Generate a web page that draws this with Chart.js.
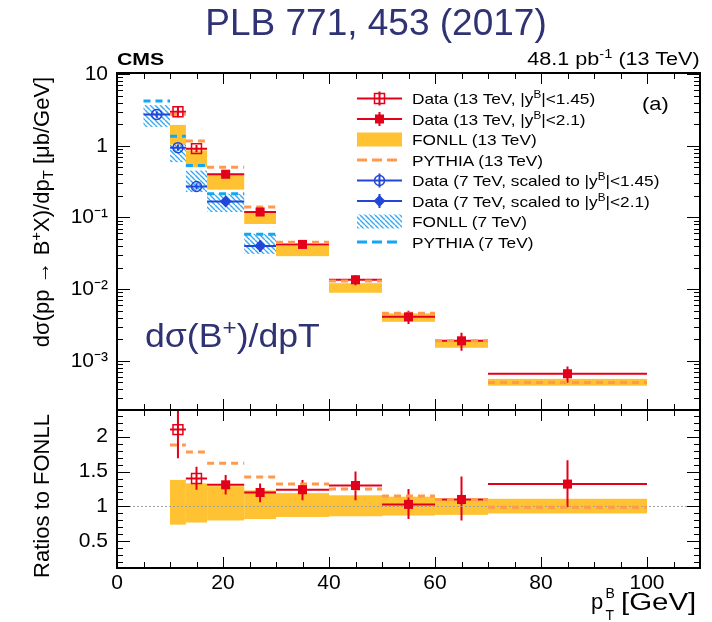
<!DOCTYPE html>
<html>
<head>
<meta charset="utf-8">
<script src="https://cdn.jsdelivr.net/npm/chart.js@4.4.1/dist/chart.umd.min.js"></script>
<style>
  html, body { margin: 0; padding: 0; background: #fff; }
  body { width: 712px; height: 622px; position: relative; overflow: hidden; font-family: "Liberation Sans", Arial, sans-serif; }
  canvas { position: absolute; left: 0; top: 0; }
  .t { position: absolute; white-space: nowrap; line-height: 1; color: #000; transform-origin: 0 0; }
  .rot { position: absolute; white-space: nowrap; line-height: 1; font-size: 22px; transform: translate(-50%, -50%) rotate(-90deg); }
  sup, sub { font-size: 68%; line-height: 0; }
  sup { vertical-align: 0.55em; }
  sub { vertical-align: -0.3em; }
  .navy { color: #2f3273; }
  #legend svg { position: absolute; left: 350px; top: 85px; }
</style>
</head>
<body>
<canvas id="c" width="712" height="622"></canvas>

<div class="t navy" id="title" style="font-size:37px; left:376px; top:4px; transform:translateX(-50%);">PLB 771, 453 (2017)</div>
<div class="t" style="font-size:17px; font-weight:bold; left:117px; top:50.6px; transform:scaleX(1.25);">CMS</div>
<div class="t" style="font-size:18px; right:12px; top:49.8px; transform-origin:100% 0; transform:scaleX(1.2);">48.1 pb<sup>-1</sup> (13 TeV)</div>
<div class="t" style="font-size:19px; left:642px; top:94px; transform:scaleX(1.15);">(a)</div>
<div class="t navy" style="font-size:33px; left:145px; top:318.7px; transform:scaleX(1.08);">dσ(B<sup>+</sup>)/dpT</div>
<!-- x축 제목: p_T^B [GeV] -->
<div class="t" style="font-size:22px; left:591px; top:591.4px;">p</div>
<div class="t" style="font-size:14px; left:605.5px; top:585.6px;">B</div>
<div class="t" style="font-size:14px; left:605.5px; top:608.1px;">T</div>
<div class="t" style="font-size:23px; left:621px; top:590.5px; transform:scaleX(1.28);">[GeV]</div>
<div class="rot" style="left:42px; top:212px;">dσ(pp → B<sup>+</sup>X)/dp<sub>T</sub> [μb/GeV]</div>
<div class="rot" style="left:42px; top:496px;">Ratios to FONLL</div>

<div id="legend"></div>

<script>
// 13 TeV 빈 (GeV)
const binLo13 = [10, 13, 17, 24, 30, 40, 50, 60, 70];
const binHi13 = [13, 17, 24, 30, 40, 50, 60, 70, 100];
// 13 TeV 데이터 (첫 두 빈은 |y|<1.45, 나머지 |y|<2.1)
const open13 = [true, true, false, false, false, false, false, false, false];
const data13 = [2.97, 0.91, 0.40, 0.119, 0.042, 0.0135, 0.0041, 0.0019, 0.00066];
const data13Lo = [2.5, 0.81, 0.357, 0.105, 0.0369, 0.0113, 0.00326, 0.00138, 0.000495];
const data13Hi = [3.5, 1.02, 0.443, 0.132, 0.0467, 0.0156, 0.00498, 0.00247, 0.00083];
const fonll13Lo = [1.04, 0.50, 0.244, 0.081, 0.0288, 0.0089, 0.0035, 0.00152, 0.00045];
const fonll13Hi = [1.95, 0.86, 0.394, 0.122, 0.0403, 0.0121, 0.0046, 0.00192, 0.00056];
const pythia13 = [2.75, 1.16, 0.50, 0.14, 0.045, 0.013, 0.0046, 0.0019, 0.0005];

// 7 TeV 빈과 값
const binLo7 = [5, 10, 13, 17, 24];
const binHi7 = [10, 13, 17, 24, 30];
const open7 = [true, true, true, false, false];
const data7 = [2.73, 0.94, 0.27, 0.167, 0.040];
const data7Lo = [2.45, 0.85, 0.245, 0.152, 0.033];
const data7Hi = [3.0, 1.04, 0.30, 0.183, 0.048];
const fonll7Lo = [1.83, 0.59, 0.226, 0.119, 0.031];
const fonll7Hi = [3.68, 1.33, 0.45, 0.214, 0.059];
const pythia7 = [4.19, 1.36, 0.53, 0.214, 0.058];

// 비율 패널 (FONLL 대비)
const ratio = [2.10, 1.40, 1.31, 1.20, 1.24, 1.30, 1.03, 1.10, 1.32];
const ratioLo = [1.69, 1.24, 1.17, 1.06, 1.09, 1.09, 0.82, 0.80, 0.99];
const ratioHi = [2.55, 1.57, 1.45, 1.33, 1.38, 1.50, 1.25, 1.43, 1.66];
const fonllRatioLo = [0.74, 0.77, 0.80, 0.82, 0.85, 0.86, 0.87, 0.88, 0.90];
const fonllRatioHi = [1.38, 1.33, 1.29, 1.23, 1.19, 1.16, 1.14, 1.11, 1.11];
const pythiaRatio = [1.88, 1.78, 1.62, 1.42, 1.32, 1.25, 1.15, 1.10, 0.99];

// 축 눈금
const xTicks = [0, 20, 40, 60, 80, 100];
const logTicks = [1e-3, 1e-2, 1e-1, 1, 10];
const logTickLabels = ['10⁻³', '10⁻²', '10⁻¹', '1', '10'];
const ratioTicks = [0.5, 1, 1.5, 2];

const RED = '#e3001b';
const BLUE = '#2146d8';
const ORANGE = '#fec232';
const PY13 = '#ff9a4d';
const HATCH = '#36a9ef';
const PY7 = '#12a6f5';

/* 보조 함수 */
// 빈마다 끊어진 수평선 데이터
function binLine(lo, hi, vals) {
    const pts = [];
    vals.forEach((v, i) => {
        pts.push({ x: lo[i], y: v }, { x: hi[i], y: v }, { x: hi[i], y: null });
    });
    return pts;
}
function centers(lo, hi, vals, pick) {
    const pts = [];
    vals.forEach((v, i) => {
        if (pick[i]) pts.push({ x: (lo[i] + hi[i]) / 2, y: v });
    });
    return pts;
}
const not = arr => arr.map(b => !b);

function hatchPattern(ctx) {
    const p = 5;
    const c = document.createElement('canvas');
    c.width = p; c.height = p;
    const g = c.getContext('2d');
    g.strokeStyle = HATCH;
    g.lineWidth = 1.4;
    g.beginPath();
    g.moveTo(0, 0); g.lineTo(p, p);
    g.moveTo(-p, 0); g.lineTo(0, p);
    g.moveTo(p, 0); g.lineTo(2 * p, p);
    g.stroke();
    return ctx.createPattern(c, 'repeat');
}

function fillBins(ctx, xs, ys, lo, hi, vLo, vHi) {
    lo.forEach((l, i) => {
        const x0 = xs.getPixelForValue(l), x1 = xs.getPixelForValue(hi[i]);
        const y0 = ys.getPixelForValue(vHi[i]), y1 = ys.getPixelForValue(vLo[i]);
        ctx.fillRect(x0, y0, x1 - x0, y1 - y0);
    });
}

function errorBars(ctx, xs, ys, lo, hi, vals, eLo, eHi, color) {
    ctx.strokeStyle = color;
    ctx.lineWidth = 2;
    ctx.beginPath();
    vals.forEach((v, i) => {
        const py = ys.getPixelForValue(v);
        const pc = xs.getPixelForValue((lo[i] + hi[i]) / 2);
        ctx.moveTo(xs.getPixelForValue(lo[i]), py);
        ctx.lineTo(xs.getPixelForValue(hi[i]), py);
        ctx.moveTo(pc, ys.getPixelForValue(eLo[i]));
        ctx.lineTo(pc, ys.getPixelForValue(eHi[i]));
    });
    ctx.stroke();
}

function clipPanel(ctx, xs, ys) {
    ctx.beginPath();
    ctx.rect(xs.left, ys.top, xs.right - xs.left, ys.bottom - ys.top);
    ctx.clip();
}

/* 밴드와 오차 막대 */
const bandsPlugin = {
    id: 'bands',
    beforeDatasetsDraw(chart) {
        const { ctx } = chart;
        const { x, y, yr } = chart.scales;
        ctx.save();
        clipPanel(ctx, x, y);
        ctx.fillStyle = hatchPattern(ctx);
        fillBins(ctx, x, y, binLo7, binHi7, fonll7Lo, fonll7Hi);
        ctx.fillStyle = ORANGE;
        fillBins(ctx, x, y, binLo13, binHi13, fonll13Lo, fonll13Hi);
        errorBars(ctx, x, y, binLo7, binHi7, data7, data7Lo, data7Hi, BLUE);
        errorBars(ctx, x, y, binLo13, binHi13, data13, data13Lo, data13Hi, RED);
        ctx.restore();

        ctx.save();
        clipPanel(ctx, x, yr);
        ctx.fillStyle = ORANGE;
        fillBins(ctx, x, yr, binLo13, binHi13, fonllRatioLo, fonllRatioHi);
        errorBars(ctx, x, yr, binLo13, binHi13, ratio, ratioLo, ratioHi, RED);
        ctx.restore();
    }
};

/* 테두리와 안쪽 눈금 (ROOT 스타일) */
const framePlugin = {
    id: 'frame',
    afterDraw(chart) {
        const { ctx } = chart;
        const { x, y, yr } = chart.scales;
        const seg = (x0, y0, x1, y1) => { ctx.moveTo(x0, y0); ctx.lineTo(x1, y1); };
        ctx.save();
        ctx.strokeStyle = '#000';
        ctx.lineWidth = 1;
        ctx.beginPath();
        for (let v = 0; v <= 110; v += 5) {
            const px = Math.round(x.getPixelForValue(v)) + 0.5;
            const len = v % 20 === 0 ? 11 : 6;
            [y, yr].forEach(s => {
                seg(px, s.top, px, s.top + len);
                seg(px, s.bottom, px, s.bottom - len);
            });
        }
        for (let e = -4; e <= 1; e++) {
            for (let k = 1; k <= 9; k++) {
                const v = k * Math.pow(10, e);
                if (v < y.min || v > y.max) continue;
                const py = Math.round(y.getPixelForValue(v)) + 0.5;
                const len = k === 1 ? 13 : 6;
                seg(x.left, py, x.left + len, py);
                seg(x.right, py, x.right - len, py);
            }
        }
        for (let i = 2; i <= 23; i++) {
            const py = Math.round(yr.getPixelForValue(i / 10)) + 0.5;
            const len = i % 5 === 0 ? 13 : 6;
            seg(x.left, py, x.left + len, py);
            seg(x.right, py, x.right - len, py);
        }
        ctx.stroke();
        ctx.lineWidth = 2;
        ctx.strokeRect(x.left, y.top, x.right - x.left, y.bottom - y.top);
        ctx.strokeRect(x.left, yr.top, x.right - x.left, yr.bottom - yr.top);
        ctx.restore();
    }
};

const tickFont = { family: '"Liberation Sans", Arial, sans-serif', size: 21 };

const chart = new Chart(document.getElementById('c').getContext('2d'), {
    type: 'scatter',
    data: {
        datasets: [
            // 마커 (위에 그려짐)
            { label: 'Data (13 TeV, |y|<1.45)', yAxisID: 'y', data: centers(binLo13, binHi13, data13, open13),
              pointStyle: 'rect', pointRadius: 7, backgroundColor: 'rgba(0,0,0,0)', borderColor: RED, borderWidth: 1.5, order: 0 },
            { label: 'Data (13 TeV, |y|<2.1)', yAxisID: 'y', data: centers(binLo13, binHi13, data13, not(open13)),
              pointStyle: 'rect', pointRadius: 6.4, backgroundColor: RED, borderColor: RED, borderWidth: 0, order: 0 },
            { label: 'Data (7 TeV, |y|<1.45)', yAxisID: 'y', data: centers(binLo7, binHi7, data7, open7),
              pointStyle: 'circle', pointRadius: 5, backgroundColor: 'rgba(0,0,0,0)', borderColor: BLUE, borderWidth: 1.5, order: 0 },
            { label: 'Data (7 TeV, |y|<2.1)', yAxisID: 'y', data: centers(binLo7, binHi7, data7, not(open7)),
              pointStyle: 'rectRot', pointRadius: 6, backgroundColor: BLUE, borderColor: BLUE, borderWidth: 0, order: 0 },
            { label: 'ratio open', yAxisID: 'yr', data: centers(binLo13, binHi13, ratio, open13),
              pointStyle: 'rect', pointRadius: 7, backgroundColor: 'rgba(0,0,0,0)', borderColor: RED, borderWidth: 1.5, order: 0 },
            { label: 'ratio filled', yAxisID: 'yr', data: centers(binLo13, binHi13, ratio, not(open13)),
              pointStyle: 'rect', pointRadius: 6.4, backgroundColor: RED, borderColor: RED, borderWidth: 0, order: 0 },
            // PYTHIA 점선
            { label: 'PYTHIA (13 TeV)', yAxisID: 'y', data: binLine(binLo13, binHi13, pythia13), showLine: true, spanGaps: false,
              pointRadius: 0, borderColor: PY13, borderWidth: 3, borderDash: [7, 5], order: 1 },
            { label: 'PYTHIA (7 TeV)', yAxisID: 'y', data: binLine(binLo7, binHi7, pythia7), showLine: true, spanGaps: false,
              pointRadius: 0, borderColor: PY7, borderWidth: 3, borderDash: [7, 5], order: 1 },
            { label: 'PYTHIA ratio', yAxisID: 'yr', data: binLine(binLo13, binHi13, pythiaRatio), showLine: true, spanGaps: false,
              pointRadius: 0, borderColor: PY13, borderWidth: 3, borderDash: [7, 5], order: 1 },
            { label: 'one', yAxisID: 'yr', data: [{ x: 0, y: 1 }, { x: 110, y: 1 }], showLine: true,
              pointRadius: 0, borderColor: '#a0a0a0', borderWidth: 1, borderDash: [2, 2], order: 2 },
        ],
    },
    options: {
        responsive: false,
        animation: false,
        events: [],
        layout: { padding: { top: 73, right: 12, left: 0, bottom: 0 } },
        plugins: { legend: { display: false }, tooltip: { enabled: false } },
        scales: {
            x: {
                type: 'linear', min: 0, max: 110,
                grid: { display: false, drawTicks: false }, border: { display: false },
                afterBuildTicks: s => { s.ticks = xTicks.map(v => ({ value: v })); },
                afterFit: s => { s.height = 54; },
                ticks: { font: tickFont, color: '#000', padding: 3, maxRotation: 0, autoSkip: false },
            },
            yr: {
                type: 'linear', position: 'left', stack: 'panels', stackWeight: 158,
                min: 0.12, max: 2.38,
                grid: { display: false, drawTicks: false }, border: { display: false },
                afterBuildTicks: s => { s.ticks = ratioTicks.map(v => ({ value: v })); },
                afterFit: s => { s.width = 117; },
                ticks: { font: tickFont, color: '#000', padding: 9, autoSkip: false, callback: v => String(v) },
            },
            y: {
                type: 'logarithmic', position: 'left', stack: 'panels', stackWeight: 337,
                min: 2.06e-4, max: 10.33,
                grid: { display: false, drawTicks: false }, border: { display: false },
                afterBuildTicks: s => { s.ticks = logTicks.map(v => ({ value: v })); },
                afterFit: s => { s.width = 117; },
                ticks: { font: tickFont, color: '#000', padding: 9, autoSkip: false, callback: (v, i) => logTickLabels[i] },
            },
        },
    },
    plugins: [bandsPlugin, framePlugin],
});

/* 범례 (HTML + SVG) */
const legendRows = [
    'Data (13 TeV, |y<sup>B</sup>|&lt;1.45)',
    'Data (13 TeV, |y<sup>B</sup>|&lt;2.1)',
    'FONLL (13 TeV)',
    'PYTHIA (13 TeV)',
    'Data (7 TeV, scaled to |y<sup>B</sup>|&lt;1.45)',
    'Data (7 TeV, scaled to |y<sup>B</sup>|&lt;2.1)',
    'FONLL (7 TeV)',
    'PYTHIA (7 TeV)',
];
const legend = document.getElementById('legend');
const rowY = i => 98.5 + 20.5 * i;
legendRows.forEach((html, i) => {
    const d = document.createElement('div');
    d.className = 't';
    d.style.cssText = `font-size:15px; left:412px; top:${rowY(i) + 5.4 - 0.847 * 15}px; transform:scaleX(1.15);`;
    d.innerHTML = html;
    legend.appendChild(d);
});
const yl = i => rowY(i) - 85;
legend.insertAdjacentHTML('beforeend', `
<svg width="60" height="170" viewBox="0 0 60 170">
  <defs>
    <pattern id="hp" width="5" height="5" patternUnits="userSpaceOnUse">
      <path d="M0,0 L5,5 M-5,0 L0,5 M5,0 L10,5" stroke="${HATCH}" stroke-width="1.4"/>
    </pattern>
  </defs>
  <g stroke="${RED}" stroke-width="2" fill="none">
    <line x1="7" x2="52" y1="${yl(0)}" y2="${yl(0)}"/><line x1="29.5" x2="29.5" y1="${yl(0) - 7}" y2="${yl(0) + 7}"/>
    <rect x="24.5" y="${yl(0) - 5}" width="10" height="10" stroke-width="1.5"/>
    <line x1="7" x2="52" y1="${yl(1)}" y2="${yl(1)}"/><line x1="29.5" x2="29.5" y1="${yl(1) - 7}" y2="${yl(1) + 7}"/>
  </g>
  <rect x="25" y="${yl(1) - 4.5}" width="9" height="9" fill="${RED}"/>
  <rect x="7" y="${yl(2) - 7}" width="45" height="14" fill="${ORANGE}"/>
  <line x1="7" x2="52" y1="${yl(3)}" y2="${yl(3)}" stroke="${PY13}" stroke-width="3" stroke-dasharray="10 5"/>
  <g stroke="${BLUE}" stroke-width="2" fill="none">
    <line x1="7" x2="52" y1="${yl(4)}" y2="${yl(4)}"/><line x1="29.5" x2="29.5" y1="${yl(4) - 7}" y2="${yl(4) + 7}"/>
    <circle cx="29.5" cy="${yl(4)}" r="5" stroke-width="1.5"/>
    <line x1="7" x2="52" y1="${yl(5)}" y2="${yl(5)}"/><line x1="29.5" x2="29.5" y1="${yl(5) - 7}" y2="${yl(5) + 7}"/>
  </g>
  <path d="M29.5,${yl(5) - 6} L35.5,${yl(5)} L29.5,${yl(5) + 6} L23.5,${yl(5)} Z" fill="${BLUE}"/>
  <rect x="7" y="${yl(6) - 7}" width="45" height="14" fill="url(#hp)"/>
  <line x1="7" x2="52" y1="${yl(7)}" y2="${yl(7)}" stroke="${PY7}" stroke-width="3" stroke-dasharray="10 5"/>
</svg>`);
</script>
</body>
</html>
